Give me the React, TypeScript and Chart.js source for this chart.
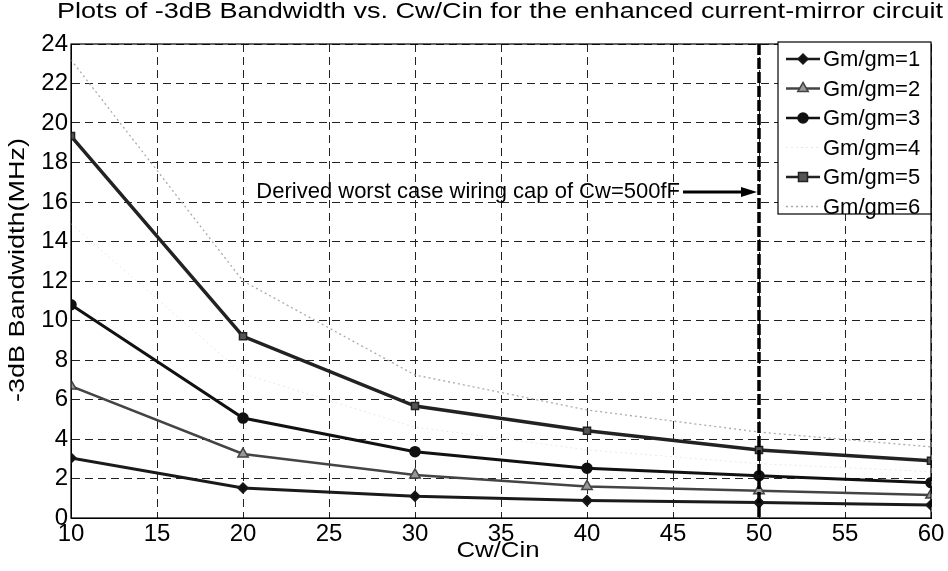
import React, { useEffect, useRef } from 'react';
import { Chart, registerables } from 'chart.js';

Chart.register(...registerables);

const ratios = [10, 20, 30, 40, 50, 60];
const gm1 = [3.04, 1.52, 1.1, 0.88, 0.78, 0.66];
const gm2 = [6.68, 3.24, 2.18, 1.6, 1.38, 1.16];
const gm3 = [10.8, 5.06, 3.36, 2.52, 2.14, 1.79];
const gm4 = [14.9, 7.3, 4.6, 3.45, 2.75, 2.35];
const gm5 = [19.34, 9.2, 5.67, 4.42, 3.44, 2.9];
const gm6 = [23.2, 12.0, 7.24, 5.47, 4.35, 3.6];
const seriesLabels = ['Gm/gm=1', 'Gm/gm=2', 'Gm/gm=3', 'Gm/gm=4', 'Gm/gm=5', 'Gm/gm=6'];
const xTickValues = [10, 15, 20, 25, 30, 35, 40, 45, 50, 55, 60];
const yTickValues = [0, 2, 4, 6, 8, 10, 12, 14, 16, 18, 20, 22, 24];
const markerX = [50];
const annotationText = ['Derived worst case wiring cap of Cw=500fF'];
const titleText = 'Plots of -3dB Bandwidth vs. Cw/Cin for the enhanced current-mirror circuit';
const xTitle = 'Cw/Cin';
const yTitle = '-3dB Bandwidth(MHz)';

const FONT = '"Liberation Sans", Arial, Helvetica, sans-serif';

const toPts = (ys: number[]) => ratios.map((x, i) => ({ x, y: ys[i] }));

const styles = [
  { color: '#1a1a1a', width: 3, dash: [] as number[], point: 'rectRot', radius: 5, fill: '#111' },
  { color: '#444444', width: 2.5, dash: [] as number[], point: 'triangle', radius: 6, fill: '#999' },
  { color: '#111111', width: 3, dash: [] as number[], point: 'circle', radius: 5, fill: '#111' },
  { color: '#e8e8e8', width: 1, dash: [2, 3], point: 'circle', radius: 0, fill: '#e8e8e8' },
  { color: '#222222', width: 3.5, dash: [] as number[], point: 'rect', radius: 5, fill: '#555' },
  { color: '#aaaaaa', width: 1.3, dash: [2, 3], point: 'circle', radius: 0, fill: '#aaaaaa' },
];

function drawStretched(
  ctx: CanvasRenderingContext2D,
  text: string,
  cx: number,
  cy: number,
  targetWidth: number,
  size: number,
  vertical: boolean
) {
  ctx.save();
  ctx.font = `${size}px ${FONT}`;
  ctx.fillStyle = '#000';
  ctx.textAlign = 'center';
  ctx.textBaseline = 'middle';
  const w = ctx.measureText(text).width;
  ctx.translate(cx, cy);
  if (vertical) ctx.rotate(-Math.PI / 2);
  ctx.scale(targetWidth / w, 1);
  ctx.fillText(text, 0, 0);
  ctx.restore();
}

function drawMarker(ctx: CanvasRenderingContext2D, style: string, x: number, y: number, r: number) {
  ctx.beginPath();
  if (style === 'circle') {
    ctx.arc(x, y, r, 0, Math.PI * 2);
  } else if (style === 'rect') {
    ctx.rect(x - r * 0.9, y - r * 0.9, r * 1.8, r * 1.8);
  } else if (style === 'rectRot') {
    ctx.moveTo(x, y - r);
    ctx.lineTo(x + r, y);
    ctx.lineTo(x, y + r);
    ctx.lineTo(x - r, y);
    ctx.closePath();
  } else if (style === 'triangle') {
    ctx.moveTo(x, y - r);
    ctx.lineTo(x + r * 0.87, y + r * 0.5);
    ctx.lineTo(x - r * 0.87, y + r * 0.5);
    ctx.closePath();
  }
  ctx.fill();
  ctx.stroke();
}

export default function App() {
  const ref = useRef<HTMLCanvasElement>(null);
  useEffect(() => {
    document.body.style.margin = '0';
    const canvas = ref.current!;
    const allSeries = [gm1, gm2, gm3, gm4, gm5, gm6];

    const overlay = {
      id: 'overlay',
      afterDatasetsDraw(chart: any) {
        const { ctx, chartArea, scales } = chart;
        const xs = scales.x;
        const px = xs.getPixelForValue(markerX[0]);
        ctx.save();
        ctx.strokeStyle = '#000';
        ctx.fillStyle = '#000';
        ctx.lineWidth = 3.5;
        ctx.setLineDash([11, 3]);
        ctx.beginPath();
        ctx.moveTo(px, chartArea.top);
        ctx.lineTo(px, chartArea.bottom);
        ctx.stroke();
        ctx.setLineDash([]);
        const ty = 192;
        ctx.font = `22px ${FONT}`;
        ctx.textAlign = 'right';
        ctx.textBaseline = 'middle';
        ctx.fillText(annotationText[0], 680, ty);
        ctx.lineWidth = 3;
        ctx.beginPath();
        ctx.moveTo(683, ty);
        ctx.lineTo(745, ty);
        ctx.stroke();
        ctx.beginPath();
        ctx.moveTo(px - 2, ty);
        ctx.lineTo(px - 18, ty - 5);
        ctx.lineTo(px - 18, ty + 5);
        ctx.closePath();
        ctx.fill();
        ctx.restore();
      },
      afterDraw(chart: any) {
        const { ctx, chartArea } = chart;
        ctx.save();
        ctx.strokeStyle = '#000';
        ctx.lineWidth = 1.2;
        ctx.setLineDash([]);
        ctx.strokeRect(chartArea.left, chartArea.top, chartArea.right - chartArea.left, chartArea.bottom - chartArea.top);
        drawStretched(ctx, titleText, 500, 12, 886, 22, false);
        drawStretched(ctx, yTitle, 18, 270, 264, 22, true);
        drawStretched(ctx, xTitle, 498, 551, 83, 22, false);
        const lx = 778, ly = 42, lw = chartArea.right - 778, lh = 172;
        ctx.fillStyle = '#fff';
        ctx.fillRect(lx, ly, lw, lh);
        ctx.strokeRect(lx, ly, lw, lh);
        chart.data.datasets.forEach((ds: any, i: number) => {
          const s = styles[i];
          const y = 59 + i * 29.5;
          ctx.strokeStyle = s.color;
          ctx.lineWidth = Math.min(s.width, 2.5);
          ctx.setLineDash(s.dash);
          ctx.beginPath();
          ctx.moveTo(786, y);
          ctx.lineTo(820, y);
          ctx.stroke();
          ctx.setLineDash([]);
          if (s.radius > 0) {
            ctx.fillStyle = s.fill;
            ctx.strokeStyle = s.color;
            ctx.lineWidth = 1.5;
            drawMarker(ctx, s.point, 803, y, s.radius);
          }
          ctx.fillStyle = '#000';
          ctx.font = `22px ${FONT}`;
          ctx.textAlign = 'left';
          ctx.textBaseline = 'middle';
          ctx.fillText(ds.label, 823, y + 1);
        });
        ctx.restore();
      },
    };

    const chart = new Chart(canvas, {
      type: 'line',
      data: {
        datasets: allSeries.map((ys, i) => ({
          label: seriesLabels[i],
          data: toPts(ys),
          borderColor: styles[i].color,
          borderWidth: styles[i].width,
          borderDash: styles[i].dash,
          pointStyle: styles[i].point as any,
          pointRadius: styles[i].radius,
          pointBackgroundColor: styles[i].fill,
          pointBorderColor: styles[i].color,
          pointBorderWidth: 1.5,
          tension: 0,
          fill: false,
        })),
      },
      options: {
        animation: false,
        responsive: false,
        events: [],
        layout: { padding: { top: 44, left: 0, right: 17, bottom: 0 } },
        plugins: {
          legend: { display: false },
          tooltip: { enabled: false },
          title: { display: false },
        },
        scales: {
          x: {
            type: 'linear',
            min: 10,
            max: 60,
            afterBuildTicks: (scale: any) => {
              scale.ticks = xTickValues.map((v) => ({ value: v }));
            },
            afterFit: (scale: any) => {
              scale.height = 53;
            },
            ticks: {
              color: '#000',
              font: { family: FONT, size: 24 },
              padding: 2,
              maxRotation: 0,
              autoSkip: false,
            },
            grid: { color: '#222', lineWidth: 1, drawTicks: false },
            border: { display: true, color: '#000', dash: [8, 5] },
          },
          y: {
            type: 'linear',
            min: 0,
            max: 24,
            afterBuildTicks: (scale: any) => {
              scale.ticks = yTickValues.map((v) => ({ value: v }));
            },
            afterFit: (scale: any) => {
              scale.width = 71;
            },
            ticks: {
              color: '#000',
              font: { family: FONT, size: 24 },
              padding: 3,
              autoSkip: false,
            },
            grid: { color: '#222', lineWidth: 1, drawTicks: false },
            border: { display: true, color: '#000', dash: [8, 5] },
          },
        },
      },
      plugins: [overlay],
    });
    return () => chart.destroy();
  }, []);
  return <canvas ref={ref} width={948} height={571} style={{ display: 'block' }} />;
}
